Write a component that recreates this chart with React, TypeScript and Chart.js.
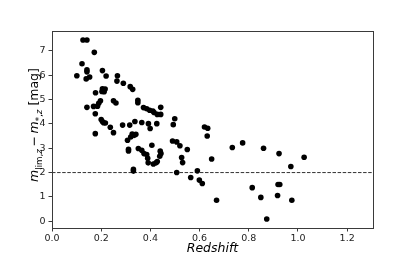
import React, { useEffect, useRef } from "react";
import { Chart, registerables } from "chart.js";

Chart.register(...registerables);

// Data
const redshift = [
  0.101, 0.122, 0.126, 0.142, 0.172, 0.142, 0.142, 0.139, 0.153, 0.205,
  0.22, 0.266, 0.264, 0.29, 0.318, 0.328, 0.177, 0.205, 0.216, 0.203,
  0.212, 0.197, 0.19, 0.185, 0.169, 0.142, 0.176, 0.25, 0.26, 0.349,
  0.349, 0.2, 0.205, 0.21, 0.217, 0.237, 0.25, 0.176, 0.287, 0.316,
  0.337, 0.365, 0.372, 0.385, 0.397, 0.41, 0.415, 0.428, 0.442, 0.442,
  0.392, 0.399, 0.426, 0.499, 0.493, 0.307, 0.32, 0.326, 0.334, 0.341,
  0.311, 0.311, 0.351, 0.365, 0.374, 0.385, 0.389, 0.391, 0.406, 0.412,
  0.423, 0.428, 0.438, 0.443, 0.44, 0.331, 0.331, 0.49, 0.507, 0.52,
  0.55, 0.527, 0.531, 0.507, 0.564, 0.591, 0.599, 0.611, 0.62, 0.633,
  0.631, 0.649, 0.669, 0.733, 0.775, 0.814, 0.849, 0.86, 0.873, 0.923,
  0.919, 0.926, 0.917, 1.025, 0.971, 0.975,
];
const magDiff = [
  5.98, 6.47, 7.45, 7.45, 6.94, 6.22, 6.14, 5.85, 5.93, 6.19,
  5.97, 5.98, 5.76, 5.67, 5.53, 5.42, 5.28, 5.44, 5.43, 5.33,
  5.32, 4.95, 4.85, 4.73, 4.72, 4.68, 4.42, 4.95, 4.86, 4.97,
  4.87, 4.18, 4.1, 4.05, 4.04, 3.86, 3.64, 3.6, 3.95, 3.95,
  4.1, 4.06, 4.67, 4.62, 4.56, 4.53, 4.47, 4.39, 4.39, 4.68,
  4.01, 3.81, 4.01, 4.21, 3.97, 3.33, 3.46, 3.58, 3.53, 3.57,
  2.96, 2.89, 2.99, 2.92, 2.78, 2.74, 2.59, 2.4, 3.12, 2.35,
  2.4, 2.45, 2.67, 2.78, 2.88, 2.13, 2.06, 3.3, 3.26, 3.1,
  2.95, 2.62, 2.41, 2.0, 1.8, 2.07, 1.69, 1.55, 3.87, 3.82,
  3.5, 2.56, 0.86, 3.03, 3.22, 1.38, 0.98, 3.0, 0.09, 2.78,
  1.51, 1.51, 1.06, 2.63, 2.25, 0.86,
];
const threshold = 2;
const xTicks = [0, 0.2, 0.4, 0.6, 0.8, 1.0, 1.2];
const yTicks = [0, 1, 2, 3, 4, 5, 6, 7];
const xLimits = [0, 1.305];
const yLimits = [-0.278, 7.818];
const xLabel = "Redshift";

const FONT = "'DejaVu Sans', sans-serif";
const AXIS_COLOR = "#3a3a3a";

type Piece = { t: string; size: number; italic: boolean; dy: number; gapAfter?: number };
const yLabelPieces: Piece[] = [
  { t: "m", size: 12.5, italic: true, dy: 0 },
  { t: "lim", size: 8.7, italic: false, dy: 4.2 },
  { t: ",", size: 8.7, italic: false, dy: 4.2 },
  { t: "z", size: 8.7, italic: true, dy: 4.2, gapAfter: 2.6 },
  { t: "\u2212", size: 12.5, italic: false, dy: 0, gapAfter: 2.6 },
  { t: "m", size: 12.5, italic: true, dy: 0 },
  { t: "*", size: 8.7, italic: false, dy: 4.2 },
  { t: ",", size: 8.7, italic: false, dy: 4.2 },
  { t: "z", size: 8.7, italic: true, dy: 4.2 },
  { t: " [mag]", size: 12.5, italic: false, dy: 0 },
];

const labelPlugin = {
  id: "labelsAndFrame",
  afterDatasetsDraw(chart: any) {
    const { ctx, chartArea } = chart;
    ctx.save();
    ctx.strokeStyle = AXIS_COLOR;
    ctx.lineWidth = 1;
    ctx.strokeRect(
      Math.round(chartArea.left) + 0.5,
      Math.round(chartArea.top) + 0.5,
      Math.round(chartArea.right - chartArea.left),
      Math.round(chartArea.bottom - chartArea.top)
    );
    ctx.restore();
  },
  afterDraw(chart: any) {
    const { ctx, chartArea } = chart;
    ctx.save();
    ctx.fillStyle = "#000";
    // x label
    ctx.font = `italic 12.5px ${FONT}`;
    ctx.textAlign = "center";
    ctx.textBaseline = "alphabetic";
    ctx.fillText(xLabel, (chartArea.left + chartArea.right) / 2, 252);

    // y label (rotated, mixed styles)
    const fontOf = (p: Piece) => `${p.italic ? "italic " : ""}${p.size}px ${FONT}`;
    let total = 0;
    const widths = yLabelPieces.map((p) => {
      ctx.font = fontOf(p);
      const w = ctx.measureText(p.t).width + (p.gapAfter || 0);
      total += w;
      return w;
    });
    ctx.translate(37.5, 125);
    ctx.rotate(-Math.PI / 2);
    ctx.textAlign = "left";
    let x = -total / 2;
    yLabelPieces.forEach((p, i) => {
      ctx.font = fontOf(p);
      ctx.fillText(p.t, x, p.dy);
      x += widths[i];
    });
    ctx.restore();
  },
};

export default function App() {
  const canvasRef = useRef<HTMLCanvasElement | null>(null);

  useEffect(() => {
    const canvas = canvasRef.current;
    if (!canvas) return;
    const points = redshift.map((x, i) => ({ x, y: magDiff[i] }));
    const chart = new Chart(canvas, {
      type: "scatter",
      data: {
        datasets: [
          {
            data: points,
            backgroundColor: "#000",
            borderColor: "#000",
            borderWidth: 0,
            pointRadius: 2.8,
          },
          {
            data: [
              { x: xLimits[0], y: threshold },
              { x: xLimits[1], y: threshold },
            ],
            showLine: true,
            borderColor: "#333",
            borderWidth: 1,
            borderDash: [3.5, 1.6],
            pointRadius: 0,
          } as any,
        ],
      },
      options: {
        animation: false,
        responsive: false,
        devicePixelRatio: 1,
        events: [],
        layout: { padding: { left: 0, top: 31, right: 42, bottom: 0 } },
        plugins: {
          legend: { display: false },
          tooltip: { enabled: false },
        },
        scales: {
          x: {
            type: "linear",
            min: xLimits[0],
            max: xLimits[1],
            afterFit: (s: any) => {
              s.height = 29;
            },
            afterBuildTicks: (s: any) => {
              s.ticks = xTicks.map((v) => ({ value: v }));
            },
            grid: {
              display: true,
              drawOnChartArea: false,
              drawTicks: true,
              tickLength: 3.5,
              tickColor: AXIS_COLOR,
              color: AXIS_COLOR,
            },
            border: { display: false },
            ticks: {
              color: "#222",
              font: { family: FONT, size: 9.5 },
              padding: 1,
              maxRotation: 0,
              autoSkip: false,
              callback: (v: any) => Number(v).toFixed(1),
            },
          },
          y: {
            type: "linear",
            min: yLimits[0],
            max: yLimits[1],
            afterFit: (s: any) => {
              s.width = 52;
            },
            afterBuildTicks: (s: any) => {
              s.ticks = yTicks.map((v) => ({ value: v }));
            },
            grid: {
              display: true,
              drawOnChartArea: false,
              drawTicks: true,
              tickLength: 3.5,
              tickColor: AXIS_COLOR,
              color: AXIS_COLOR,
            },
            border: { display: false },
            ticks: {
              color: "#222",
              font: { family: FONT, size: 9.5 },
              padding: 3,
              autoSkip: false,
              callback: (v: any) => String(Math.round(Number(v))),
            },
          },
        },
      },
      plugins: [labelPlugin],
    });
    return () => chart.destroy();
  }, []);

  return (
    <div style={{ position: "fixed", left: 0, top: 0, width: 415, height: 257, background: "#fff" }}>
      <canvas ref={canvasRef} width={415} height={257} style={{ display: "block" }} />
    </div>
  );
}
